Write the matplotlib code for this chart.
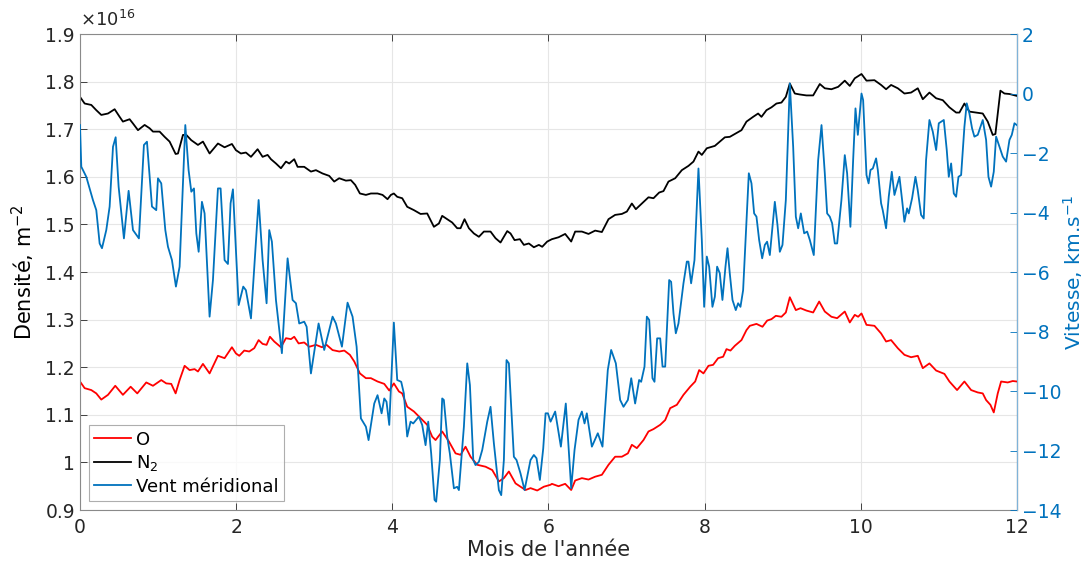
import matplotlib.pyplot as plt

# Densite O (x1e16 m^-2) vs mois
o_mois = [0.0, 0.06, 0.145, 0.209, 0.273, 0.359, 0.452, 0.55, 0.649, 0.734, 0.849, 0.935, 1.041, 1.105,
          1.169, 1.225, 1.276, 1.34, 1.404, 1.468, 1.511, 1.575, 1.66, 1.767, 1.852, 1.946,
          1.997, 2.04, 2.104, 2.168, 2.232, 2.288, 2.339, 2.39, 2.433, 2.488, 2.574, 2.638, 2.702, 2.744,
          2.8, 2.872, 2.936, 3.022, 3.099, 3.158, 3.235, 3.321, 3.385, 3.457, 3.513, 3.585, 3.662, 3.726,
          3.811, 3.897, 3.961,
          4.02, 4.085, 4.127, 4.191, 4.277, 4.362, 4.447, 4.511, 4.554, 4.639, 4.725, 4.81, 4.874, 4.938,
          5.002, 5.088, 5.194, 5.28, 5.365, 5.429, 5.493, 5.578, 5.706, 5.77, 5.856, 5.941, 6.026,
          6.044, 6.129, 6.214, 6.291, 6.342, 6.428, 6.513, 6.598, 6.684, 6.769, 6.854, 6.94, 7.017, 7.068,
          7.132, 7.217, 7.281, 7.345, 7.431, 7.495, 7.559, 7.644, 7.729, 7.815, 7.879, 7.93, 7.985, 8.049,
          8.109, 8.173, 8.237, 8.28, 8.331, 8.387, 8.472, 8.536, 8.579, 8.664, 8.741, 8.801, 8.856, 8.912,
          8.984, 9.04, 9.091, 9.168, 9.228, 9.304, 9.39, 9.467, 9.539, 9.624, 9.697, 9.795, 9.859, 9.923,
          9.966, 10.009, 10.073,
          10.175, 10.26, 10.324, 10.388, 10.474, 10.559, 10.644, 10.73, 10.794, 10.879, 10.965, 11.071,
          11.135, 11.233, 11.327, 11.413, 11.498, 11.562, 11.605, 11.66, 11.703, 11.754, 11.797, 11.882,
          11.946, 11.998]
o_dens = [1.170, 1.156, 1.152, 1.145, 1.132, 1.142, 1.161, 1.142, 1.159, 1.145, 1.168, 1.161, 1.173, 1.166,
          1.165, 1.145, 1.173, 1.203, 1.194, 1.196, 1.191, 1.207, 1.187, 1.224, 1.219, 1.242,
          1.229, 1.224, 1.235, 1.233, 1.240, 1.257, 1.249, 1.247, 1.264, 1.254, 1.242, 1.261, 1.259, 1.264,
          1.250, 1.252, 1.243, 1.247, 1.242, 1.247, 1.236, 1.233, 1.235, 1.226, 1.212, 1.187, 1.177, 1.177,
          1.170, 1.165, 1.151,
          1.166, 1.149, 1.145, 1.117, 1.107, 1.093, 1.079, 1.054, 1.047, 1.065, 1.044, 1.019, 1.016, 1.033,
          1.012, 0.995, 0.991, 0.984, 0.960, 0.967, 0.981, 0.956, 0.942, 0.946, 0.941, 0.949, 0.953,
          0.955, 0.950, 0.955, 0.942, 0.962, 0.967, 0.964, 0.970, 0.974, 0.995, 1.012, 1.012, 1.019, 1.037,
          1.030, 1.047, 1.065, 1.070, 1.079, 1.089, 1.114, 1.121, 1.142, 1.159, 1.170, 1.194, 1.187, 1.203,
          1.205, 1.219, 1.222, 1.238, 1.235, 1.245, 1.257, 1.278, 1.287, 1.291, 1.285, 1.298, 1.301, 1.308,
          1.306, 1.315, 1.347, 1.320, 1.324, 1.319, 1.315, 1.338, 1.317, 1.306, 1.303, 1.317, 1.294, 1.310,
          1.306, 1.313, 1.289,
          1.287, 1.271, 1.254, 1.257, 1.240, 1.226, 1.221, 1.224, 1.198, 1.208, 1.193, 1.186,
          1.170, 1.152, 1.170, 1.152, 1.147, 1.145, 1.131, 1.121, 1.105, 1.145, 1.170, 1.168,
          1.171, 1.170]

# Densite N2 (x1e16 m^-2)
n2_mois = [0.0, 0.06, 0.145, 0.209, 0.273, 0.359, 0.444, 0.508, 0.55, 0.636, 0.679, 0.743, 0.828, 0.892,
           0.935, 1.02, 1.084, 1.148, 1.225, 1.255, 1.319, 1.362, 1.425, 1.511, 1.575, 1.66, 1.767, 1.852,
           1.946,
           1.997, 2.061, 2.125, 2.19, 2.275, 2.339, 2.403, 2.446, 2.51, 2.574, 2.638, 2.68, 2.744, 2.787,
           2.872, 2.958, 3.022, 3.107, 3.192, 3.256, 3.32, 3.406, 3.47, 3.525, 3.585, 3.662, 3.726, 3.811,
           3.875, 3.939, 3.982,
           4.02, 4.063, 4.127, 4.191, 4.277, 4.362, 4.447, 4.533, 4.597, 4.639, 4.703, 4.767, 4.831, 4.874,
           4.925, 4.981, 5.045, 5.109, 5.173, 5.258, 5.322, 5.386, 5.472, 5.514, 5.566, 5.634, 5.685, 5.749,
           5.813, 5.877, 5.92, 5.984,
           6.044, 6.129, 6.214, 6.291, 6.342, 6.428, 6.513, 6.598, 6.684, 6.769, 6.854, 6.94, 7.004, 7.068,
           7.119, 7.196, 7.281, 7.345, 7.418, 7.473, 7.537, 7.623, 7.708, 7.793, 7.857, 7.921, 7.964, 8.028,
           8.131, 8.195, 8.259, 8.323, 8.387, 8.472, 8.536, 8.621, 8.685, 8.728, 8.792, 8.856, 8.92, 8.984,
           9.04, 9.091, 9.155, 9.219, 9.304, 9.39, 9.475, 9.539, 9.624, 9.71, 9.795, 9.859, 9.923, 10.009,
           10.073,
           10.175, 10.26, 10.324, 10.388, 10.474, 10.559, 10.644, 10.73, 10.794, 10.879, 10.965, 11.05,
           11.135, 11.221, 11.263, 11.327, 11.391, 11.477, 11.562, 11.626, 11.69, 11.724, 11.788, 11.84,
           11.904, 11.998]
n2_dens = [1.768, 1.754, 1.751, 1.740, 1.730, 1.733, 1.742, 1.726, 1.716, 1.721, 1.712, 1.698, 1.709, 1.702,
           1.695, 1.695, 1.684, 1.674, 1.648, 1.649, 1.688, 1.688, 1.677, 1.667, 1.674, 1.649, 1.670, 1.662,
           1.669,
           1.656, 1.649, 1.651, 1.642, 1.658, 1.642, 1.646, 1.637, 1.628, 1.618, 1.632, 1.628, 1.637, 1.621,
           1.621, 1.611, 1.614, 1.607, 1.602, 1.590, 1.597, 1.592, 1.593, 1.583, 1.565, 1.562, 1.565, 1.565,
           1.562, 1.553, 1.562,
           1.565, 1.558, 1.555, 1.537, 1.530, 1.522, 1.523, 1.495, 1.502, 1.518, 1.511, 1.504, 1.492, 1.492,
           1.511, 1.492, 1.481, 1.474, 1.485, 1.485, 1.471, 1.462, 1.486, 1.481, 1.467, 1.469, 1.457, 1.460,
           1.452, 1.457, 1.453, 1.464,
           1.469, 1.473, 1.480, 1.464, 1.485, 1.485, 1.480, 1.487, 1.484, 1.511, 1.520, 1.522, 1.527, 1.544,
           1.532, 1.544, 1.557, 1.555, 1.567, 1.570, 1.590, 1.597, 1.614, 1.623, 1.632, 1.653, 1.646, 1.660,
           1.665, 1.674, 1.683, 1.684, 1.690, 1.698, 1.716, 1.726, 1.733, 1.726, 1.740, 1.746, 1.754, 1.756,
           1.768, 1.796, 1.775, 1.773, 1.771, 1.771, 1.795, 1.786, 1.784, 1.789, 1.802, 1.791, 1.807, 1.816,
           1.802,
           1.803, 1.793, 1.784, 1.793, 1.786, 1.775, 1.777, 1.786, 1.763, 1.777, 1.765, 1.761,
           1.746, 1.735, 1.735, 1.754, 1.737, 1.735, 1.733, 1.716, 1.688, 1.690, 1.781, 1.775,
           1.774, 1.770]

# Vent meridional (km/s)
vent_mois = [0.0, 0.017, 0.081, 0.166, 0.209, 0.252, 0.282, 0.337, 0.38, 0.423, 0.457, 0.495, 0.563, 0.623,
             0.679, 0.755, 0.819, 0.858, 0.922, 0.977, 0.999, 1.041, 1.093, 1.127, 1.178, 1.229, 1.276,
             1.349, 1.391, 1.426, 1.46, 1.49, 1.52, 1.562, 1.596, 1.66, 1.703, 1.767, 1.801, 1.852, 1.895,
             1.929, 1.959,
             2.032, 2.091, 2.125, 2.19, 2.288, 2.339, 2.39, 2.424, 2.458, 2.51, 2.586, 2.659, 2.723, 2.766,
             2.808, 2.872, 2.903, 2.958, 3.056, 3.128, 3.235, 3.278, 3.355, 3.427, 3.491, 3.543, 3.598,
             3.662, 3.696, 3.769, 3.811, 3.863, 3.897, 3.926, 3.961, 4.02,
             4.063, 4.114, 4.148, 4.191, 4.234, 4.268, 4.34, 4.383, 4.426, 4.46, 4.498, 4.541, 4.562, 4.609,
             4.639, 4.66, 4.703, 4.737, 4.789, 4.831, 4.853, 4.917, 4.96, 4.994, 5.037, 5.066, 5.109, 5.152,
             5.216, 5.258, 5.301, 5.365, 5.395, 5.429, 5.463, 5.493, 5.557, 5.591, 5.642, 5.694, 5.728,
             5.77, 5.813, 5.847, 5.89, 5.933, 5.963, 5.993, 6.027,
             6.086, 6.159, 6.222, 6.291, 6.334, 6.385, 6.428, 6.462, 6.491, 6.556, 6.632, 6.692, 6.76, 6.803,
             6.863, 6.918, 6.961, 7.017, 7.06, 7.11, 7.161, 7.187, 7.23, 7.26, 7.29, 7.332, 7.358, 7.392,
             7.431, 7.461, 7.495, 7.546, 7.571, 7.601, 7.631, 7.665, 7.729, 7.772, 7.793, 7.827, 7.87,
             7.921, 7.964, 7.994, 8.028, 8.058,
             8.1, 8.131, 8.16, 8.194, 8.228, 8.267, 8.293, 8.322, 8.357, 8.399, 8.429, 8.459, 8.493, 8.566,
             8.6, 8.634, 8.664, 8.698, 8.737, 8.771, 8.8, 8.835, 8.899, 8.933, 8.963, 8.997, 9.04, 9.091,
             9.134, 9.168, 9.198, 9.232, 9.275, 9.313, 9.347, 9.398, 9.454, 9.497, 9.539, 9.569, 9.603,
             9.633, 9.667, 9.697, 9.752, 9.795, 9.825, 9.867, 9.902, 9.932, 9.962, 10.009, 10.03, 10.073,
             10.1,
             10.124, 10.154, 10.196, 10.218, 10.26, 10.281, 10.324, 10.358, 10.397, 10.431, 10.495, 10.529,
             10.559, 10.593, 10.614, 10.657, 10.7, 10.729, 10.772, 10.806, 10.836, 10.879, 10.922, 10.965,
             10.999, 11.063, 11.101, 11.127, 11.157, 11.191, 11.221, 11.251, 11.285, 11.327, 11.357,
             11.391, 11.425, 11.455, 11.498, 11.562, 11.605, 11.635, 11.669, 11.703, 11.733, 11.776,
             11.818, 11.861, 11.904, 11.934, 11.968, 11.998]
vent = [-1.06, -2.46, -2.80, -3.58, -3.92, -5.04, -5.20, -4.59, -3.80, -1.79, -1.47, -3.13, -4.87, -3.27,
        -4.59, -4.87, -1.73, -1.62, -3.80, -3.92, -2.85, -3.02, -4.59, -5.15, -5.60, -6.49, -5.82,
        -1.06, -2.57, -3.30, -3.19, -4.70, -5.32, -3.64, -4.03, -7.50, -6.27, -3.19, -3.19, -5.60, -5.73,
        -3.69, -3.22,
        -7.11, -6.49, -6.61, -7.56, -3.58, -5.60, -7.05, -4.59, -4.98, -6.94, -8.73, -5.54, -6.94, -7.05,
        -7.73, -7.67, -7.84, -9.41, -7.73, -8.62, -7.50, -7.73, -8.51, -7.03, -7.50, -8.51, -10.92,
        -11.20, -11.65, -10.42, -10.14, -10.75, -10.25, -10.36, -11.14, -7.70,
        -9.63, -9.69, -10.08, -11.53, -11.03, -11.09, -10.86, -11.14, -11.82, -11.03, -12.10, -13.66, -13.72,
        -12.32, -10.25, -10.30, -11.53, -12.10, -13.27, -13.22, -13.33, -11.20, -9.07, -9.80, -12.32,
        -12.49, -12.38, -11.98, -11.03, -10.53, -11.76, -13.33, -13.50, -12.32, -8.96, -9.07, -12.21,
        -12.32, -12.77, -13.33, -12.88, -12.32, -12.15, -12.26, -12.99, -11.93, -10.75, -10.75, -11.03,
        -10.69, -11.87, -10.42, -13.27, -11.98, -10.97, -10.69, -11.09, -10.75, -11.87, -11.42, -11.87,
        -9.29, -8.62, -9.07, -10.30, -10.53, -10.30, -9.57, -10.42, -9.63, -9.69, -9.18, -7.50, -7.61,
        -9.57, -9.69, -8.23, -8.23, -9.18, -9.18, -6.27, -6.33, -7.39, -8.06, -7.73, -6.38, -5.65, -5.65,
        -6.38, -5.60, -2.52, -4.92, -7.17, -5.48, -5.82,
        -7.17, -6.83, -5.82, -6.04, -6.94, -5.82, -5.20, -6.04, -6.94, -7.28, -7.05, -7.17, -6.61, -2.68,
        -3.02, -4.03, -4.14, -4.92, -5.54, -5.09, -4.98, -5.43, -3.64, -4.42, -5.32, -5.09, -3.58, 0.34,
        -1.79, -4.14, -4.53, -4.03, -4.70, -4.64, -4.92, -5.43, -2.24, -1.06, -2.68, -4.03, -4.14,
        -4.36, -5.04, -5.04, -3.58, -2.07, -2.68, -4.48, -2.24, -0.50, -1.39, 0.00, -0.22, -2.74,
        -3.02,
        -2.57, -2.52, -2.18, -2.57, -3.69, -3.92, -4.53, -3.47, -2.63, -3.41, -2.80, -3.58,
        -4.31, -3.86, -4.03, -3.52, -2.80, -3.24, -4.08, -4.20, -2.24, -0.89, -1.28, -1.90,
        -1.00, -0.89, -1.90, -2.80, -2.35, -3.36, -3.47, -2.80, -2.74, -1.12, -0.33,
        -0.67, -1.17, -1.45, -1.39, -0.89, -1.56, -2.80, -3.13, -2.63, -1.45, -1.79,
        -2.12, -2.29, -1.56, -1.39, -1.00, -1.06]

bleu = '#0072BD'
gris = '#262626'
fs = 13.5

fig = plt.figure(figsize=(10.88, 5.67), dpi=100)
ax = fig.add_axes([0.0735, 0.1005, 0.8612, 0.8395])
ax2 = ax.twinx()

l1, = ax.plot(o_mois, o_dens, color='red', lw=1.3, label='O')
l2, = ax.plot(n2_mois, n2_dens, color='black', lw=1.3, label='N$_2$')
l3, = ax2.plot(vent_mois, vent, color=bleu, lw=1.3, label='Vent méridional')

ax.set_xlim(0, 12)
ax.set_ylim(0.9, 1.9)
ax.set_xticks(range(0, 13, 2))
ax.set_yticks([0.9, 1.0, 1.1, 1.2, 1.3, 1.4, 1.5, 1.6, 1.7, 1.8, 1.9])
ax.set_yticklabels(['0.9', '1', '1.1', '1.2', '1.3', '1.4', '1.5', '1.6', '1.7', '1.8', '1.9'])
ax2.set_ylim(-14, 2)
ax2.set_yticks(range(-14, 3, 2))

ax.grid(True, color='#e6e6e6', lw=0.8)
ax.set_axisbelow(True)

ax.tick_params(direction='in', length=5, width=0.6, colors=gris, labelsize=fs, top=True)
ax.tick_params(axis='x', pad=6)
ax2.tick_params(direction='in', length=5, width=0.6, colors=bleu, labelsize=fs)
for s in ['left', 'bottom', 'top']:
    ax.spines[s].set_color('#8a8a8a')
    ax.spines[s].set_linewidth(0.8)
ax2.spines['right'].set_color('#7fb3d9')
ax2.spines['right'].set_linewidth(0.8)
for s in ['left', 'bottom', 'top']:
    ax2.spines[s].set_visible(False)

ax.set_xlabel("Mois de l'année", fontsize=15, color=gris, labelpad=2)
ax.set_ylabel('Densité, m$^{-2}$', fontsize=15, color='black', labelpad=6)
fig.text(1073 / 1088, 0.52, 'Vitesse, km.s$^{-1}$', rotation=90, fontsize=14.5, color=bleu,
         ha='center', va='center')
ax.text(0.0, 1.008, r'$\times10^{16}$', transform=ax.transAxes, fontsize=13, color=gris,
        ha='left', va='bottom')

leg = ax2.legend(handles=[l1, l2, l3], loc='lower left', fontsize=13, frameon=True, fancybox=False,
                 edgecolor='#9a9a9a', borderpad=0.3, labelspacing=0.25, handlelength=2.0,
                 handletextpad=0.3, borderaxespad=0.5)
leg.get_frame().set_linewidth(0.8)

fig.savefig('out.png', dpi=100)
